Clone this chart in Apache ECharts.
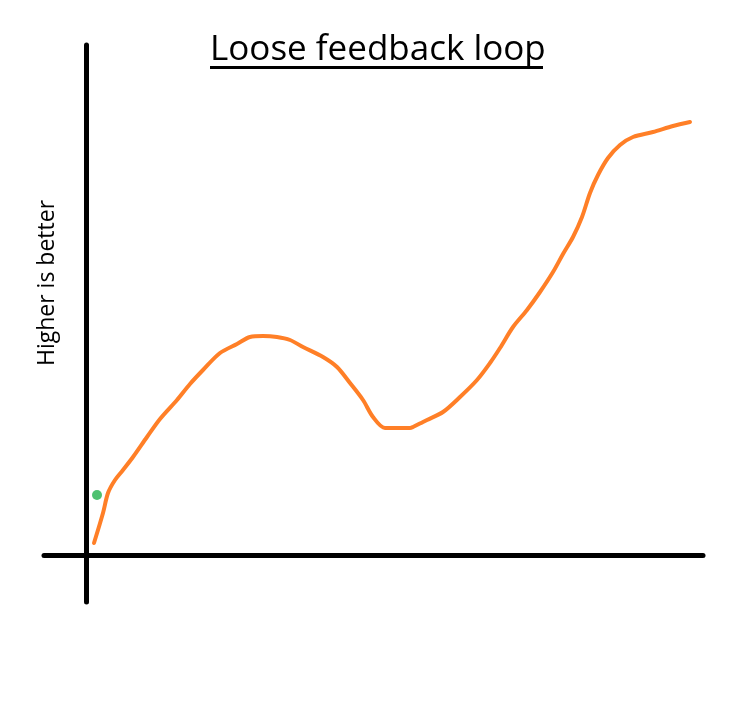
<!DOCTYPE html>
<html>
<head>
<meta charset="utf-8">
<title>Loose feedback loop</title>
<script src="https://cdn.jsdelivr.net/npm/echarts@6/dist/echarts.min.js"></script>
<style>
  html, body { margin: 0; padding: 0; background: #fff; }
  #main { width: 729px; height: 711px; }
</style>
</head>
<body>
<div id="main"></div>
<script>
// curve, x = progress, y = how good (higher is better)
var curveX = [8, 17, 22, 29, 37, 47, 61, 74, 91, 104, 117, 134, 151, 164, 177, 191, 204, 217, 237, 251, 264, 277, 287, 299, 324, 327, 337, 341, 357, 374, 391, 404, 414, 427, 441, 454, 467, 477, 487, 496, 504, 512, 522, 534, 547, 567, 587, 604];
var curveY = [12, 42, 62, 75, 85, 98, 118, 136, 155, 171, 185, 202, 211, 218, 219, 218, 215, 208, 198, 188, 172, 155, 138, 127, 127, 128, 133, 135, 143, 158, 175, 192, 207, 228, 245, 263, 283, 301, 318, 338, 362, 380, 397, 410, 418, 423, 429, 433];
// the lone green dot
var dotX = [11];
var dotY = [60];

var titleText = 'Loose feedback loop';
var yLabel = 'Higher is better';

var chart = echarts.init(document.getElementById('main'));

var lineData = [];
for (var i = 0; i < curveX.length; i++) {
    lineData.push([curveX[i], curveY[i]]);
}
var dotData = [[dotX[0], dotY[0]]];

var option = {
    backgroundColor: '#fff',
    animation: false,
    title: {
        text: titleText,
        left: 210,
        top: 33,
        padding: 0,
        textStyle: {
            fontFamily: 'Open Sans',
            fontSize: 35,
            fontWeight: 'normal',
            color: '#000'
        }
    },
    grid: { left: 44, right: 26, top: 45, bottom: 109 },
    xAxis: {
        type: 'value',
        min: -42,
        max: 617,
        axisLine: { onZero: true, lineStyle: { color: '#000', width: 5 } },
        axisTick: { show: false },
        axisLabel: { show: false },
        splitLine: { show: false }
    },
    yAxis: {
        type: 'value',
        min: -47,
        max: 510,
        axisLine: { show: true, onZero: true, lineStyle: { color: '#000', width: 5 } },
        axisTick: { show: false },
        axisLabel: { show: false },
        splitLine: { show: false }
    },
    graphic: [
        {   // underline under the title
            type: 'rect',
            shape: { x: 210, y: 66, width: 333, height: 3 },
            style: { fill: '#000' }
        },
        {
            type: 'text',
            x: 47,
            y: 283,
            rotation: Math.PI / 2,
            style: {
                text: yLabel,
                font: '23px "Open Sans"',
                fill: '#000',
                textAlign: 'center',
                textVerticalAlign: 'middle'
            }
        }
    ],
    series: [
        {
            type: 'line',
            data: lineData,
            smooth: 0.3,
            showSymbol: false,
            lineStyle: { color: '#ff7f27', width: 4, cap: 'round' }
        },
        {
            type: 'scatter',
            data: dotData,
            symbolSize: 10,
            itemStyle: { color: '#22b14c' }
        }
    ]
};

chart.setOption(option);
</script>
</body>
</html>
